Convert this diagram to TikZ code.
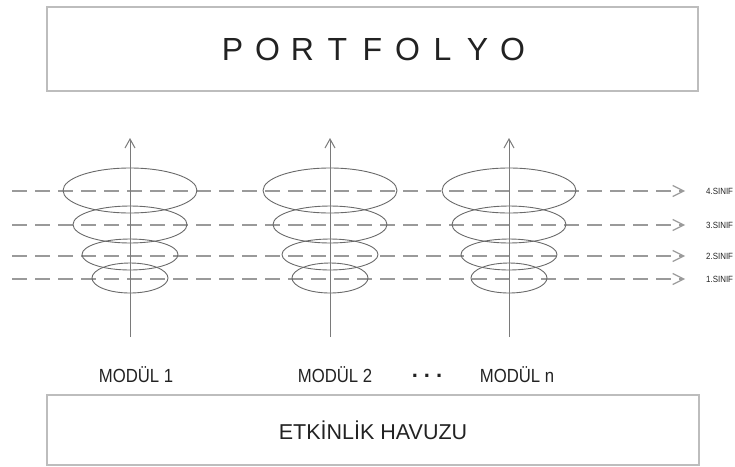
\documentclass[tikz,border=0pt]{standalone}
\usepackage{fontspec}
\setmainfont{Liberation Sans}
\newfontfamily\narrowfont[FakeStretch=0.88]{Liberation Sans}
\usetikzlibrary{arrows.meta,shapes.geometric}
\definecolor{boxgray}{HTML}{BDBDBD}
\definecolor{dashgray}{HTML}{9A9A9A}
\definecolor{ellgray}{HTML}{6A6A6A}
\definecolor{axisgray}{HTML}{7A7A7A}
\definecolor{txt}{HTML}{222222}
\newcommand{\spreadch}[1]{\makebox[35pt]{#1}}
\tikzset{
  frame/.style={draw=boxgray, line width=1.5pt, inner sep=0pt},
  ring/.style={draw=ellgray, line width=0.9pt, ellipse, inner sep=0pt},
  level/.style={draw=dashgray, line width=1.2pt, dash pattern=on 15pt off 8pt, -{Straight Barb[length=11pt,width=11pt,line width=1.2pt]}},
  axis/.style={draw=axisgray, line width=1pt, -{Straight Barb[length=9pt,width=10pt,line width=1pt]}},
  modlabel/.style={text=txt, font=\narrowfont\fontsize{19}{21}\selectfont, inner sep=0pt},
  lvllabel/.style={text=txt, font=\narrowfont\fontsize{9}{10}\selectfont, anchor=west, inner sep=0pt},
}
\begin{document}
\begin{tikzpicture}[x=1pt,y=-1pt]
\useasboundingbox (0,0) rectangle (735,466);
% top box
\node[frame, minimum width=651pt, minimum height=84pt] (port) at (372.5,49)
  {\color{txt}\fontsize{32}{36}\selectfont\spreadch{P}\spreadch{O}\spreadch{R}\spreadch{T}\spreadch{F}\spreadch{O}\spreadch{L}\spreadch{Y}\spreadch{O}};
% bottom box
\node[frame, minimum width=652pt, minimum height=70pt] (pool) at (373,430)
  {\color{txt}\fontsize{21.5}{24}\selectfont ETKİNLİK HAVUZU};
% dashed level lines
\foreach \y/\n in {191/4,225/3,256/2,279/1}{
  \coordinate (ls\n) at (12,\y);
  \coordinate (le\n) at (685,\y);
  \draw[level] (ls\n) -- (le\n);
  \node[lvllabel] (lab\n) at (706,\y) {\n.SINIF};
}
% modules
\foreach \x/\m in {130/a,330/b,509/c}{
  \node[ring, minimum width=134pt, minimum height=45pt] (e4\m) at (\x,190.5) {};
  \node[ring, minimum width=114pt, minimum height=37pt] (e3\m) at (\x,224.5) {};
  \node[ring, minimum width=96pt, minimum height=31pt] (e2\m) at (\x,254.5) {};
  \node[ring, minimum width=76pt, minimum height=30pt] (e1\m) at (\x,278) {};
  \coordinate (ab\m) at (\x,337);
  \coordinate (at\m) at (\x,138);
  \draw[axis] (ab\m) -- (at\m);
}
\node[modlabel] (m1) at (136,375) {MODÜL 1};
\node[modlabel] (m2) at (335,375) {MODÜL 2};
\node[modlabel, font=\fontsize{22}{24}\selectfont\bfseries] (dots) at (427,376) {.\hspace{6pt}.\hspace{6pt}.};
\node[modlabel] (mn) at (517,375) {MODÜL n};
\end{tikzpicture}
\end{document}
